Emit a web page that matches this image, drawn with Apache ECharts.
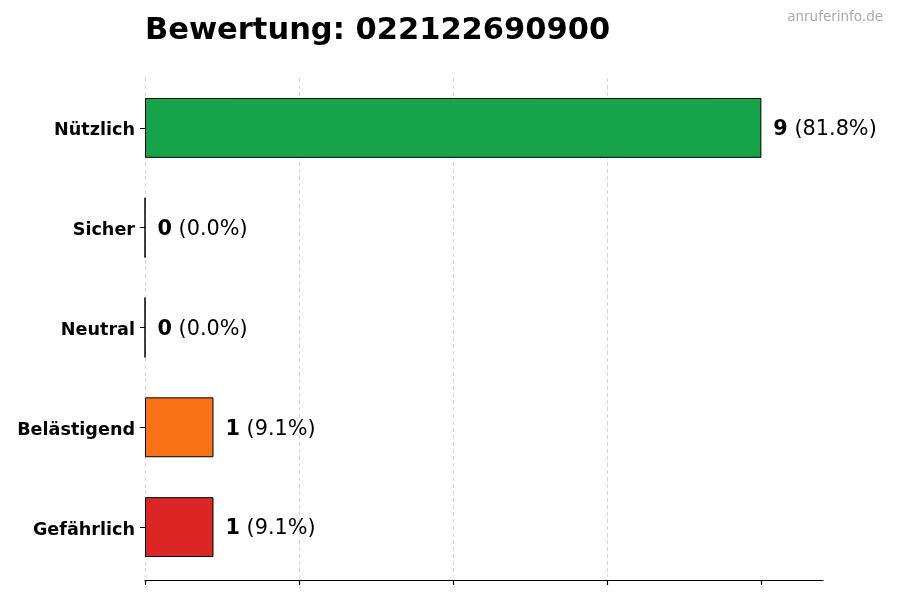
<!DOCTYPE html>
<html>
<head>
<meta charset="utf-8">
<script src="https://cdn.jsdelivr.net/npm/echarts@6/dist/echarts.min.js"></script>
<style>html,body{margin:0;padding:0;background:#fff}#c{width:900px;height:600px}</style>
</head>
<body>
<div id="c"></div>
<script>
const categories = ["Nützlich", "Sicher", "Neutral", "Belästigend", "Gefährlich"];
const counts = [9, 0, 0, 1, 1];
const percents = ["81.8%", "0.0%", "0.0%", "9.1%", "9.1%"];
const colors = ["#16a34a", "#22c55e", "#9ca3af", "#f97316", "#dc2626"];
const xTicks = [0, 2.25, 4.5, 6.75, 9];
const titleText = "Bewertung: 022122690900";
const watermark = "anruferinfo.de";

const FONT = "DejaVu Sans";
const chart = echarts.init(document.getElementById('c'), null, {renderer: 'canvas'});
chart.setOption({
  animation: false,
  textStyle: {fontFamily: FONT},
  title: [
    {text: titleText, left: 140, top: 11, textStyle: {fontFamily: FONT, fontSize: 30.5, fontWeight: 'bold', color: '#000'}},
    {text: watermark, right: 12, top: 5, textStyle: {fontFamily: FONT, fontSize: 13.5, fontWeight: 'normal', color: '#aaaaaa'}}
  ],
  grid: {left: 145, right: 77, top: 78, bottom: 23, containLabel: false},
  xAxis: {
    type: 'value', min: 0, max: 9.9,
    offset: 3,
    axisLine: {show: true, lineStyle: {color: '#000', width: 1.2}},
    axisTick: {show: true, length: 5, lineStyle: {color: '#000', width: 1.2}, customValues: xTicks},
    axisLabel: {show: false},
    splitLine: {show: true, showMaxLine: false, lineStyle: {color: '#cccccc', type: [4, 3], width: 0.8}}
  },
  yAxis: {
    type: 'category', inverse: true, data: categories,
    axisLine: {show: false},
    axisTick: {show: true, length: 5, alignWithLabel: true, lineStyle: {color: '#000', width: 1}},
    axisLabel: {
      margin: 10,
      formatter: v => '{c|' + v + '}',
      rich: {c: {fontFamily: FONT, fontSize: 17.6, fontWeight: 'bold', color: '#000', padding: [6, 0, 0, 0]}}
    }
  },
  series: [{
    type: 'bar',
    barWidth: '60%',
    data: counts.map((v, i) => ({value: v, itemStyle: {color: colors[i]}})),
    itemStyle: {borderColor: '#000', borderWidth: 1},
    label: {
      show: true, position: 'right', distance: 12,
      padding: [4, 0, 0, 0],
      formatter: p => '{b|' + counts[p.dataIndex] + '}{n| (' + percents[p.dataIndex] + ')}',
      rich: {
        b: {fontFamily: FONT, fontSize: 20.8, fontWeight: 'bold', color: '#000'},
        n: {fontFamily: FONT, fontSize: 20.8, color: '#000'}
      }
    }
  }]
});
</script>
</body>
</html>
